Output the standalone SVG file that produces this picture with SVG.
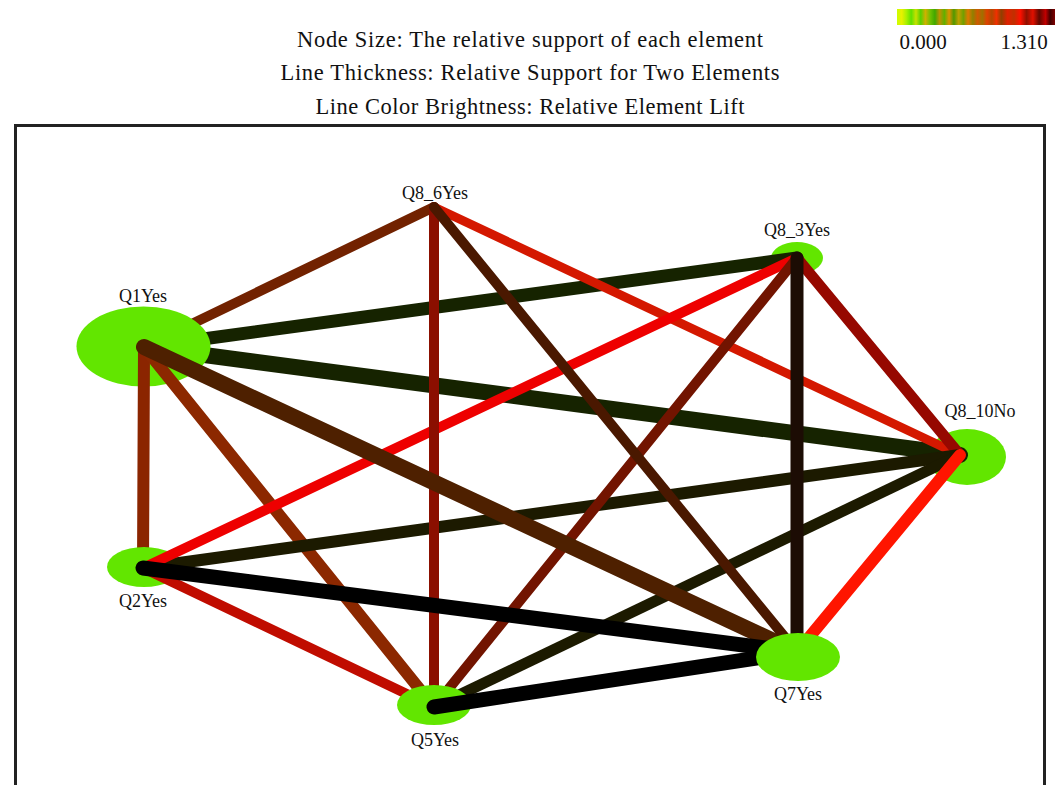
<svg xmlns="http://www.w3.org/2000/svg" width="1061" height="785" viewBox="0 0 1061 785">
  <defs>
    <linearGradient id="liftScale" x1="0" y1="0" x2="1" y2="0">
      <stop offset="0" stop-color="#ccff00"/>
      <stop offset="0.03" stop-color="#e8f000"/>
      <stop offset="0.06" stop-color="#a8f000"/>
      <stop offset="0.09" stop-color="#60e000"/>
      <stop offset="0.12" stop-color="#c8e000"/>
      <stop offset="0.15" stop-color="#58d000"/>
      <stop offset="0.18" stop-color="#d0b000"/>
      <stop offset="0.21" stop-color="#70c000"/>
      <stop offset="0.24" stop-color="#40a800"/>
      <stop offset="0.27" stop-color="#c09000"/>
      <stop offset="0.30" stop-color="#60b000"/>
      <stop offset="0.33" stop-color="#e09000"/>
      <stop offset="0.36" stop-color="#509800"/>
      <stop offset="0.39" stop-color="#c0a000"/>
      <stop offset="0.42" stop-color="#70a000"/>
      <stop offset="0.45" stop-color="#e07800"/>
      <stop offset="0.48" stop-color="#908000"/>
      <stop offset="0.51" stop-color="#d05800"/>
      <stop offset="0.54" stop-color="#a07000"/>
      <stop offset="0.57" stop-color="#e04000"/>
      <stop offset="0.60" stop-color="#b04800"/>
      <stop offset="0.63" stop-color="#f03000"/>
      <stop offset="0.66" stop-color="#904000"/>
      <stop offset="0.70" stop-color="#e02000"/>
      <stop offset="0.74" stop-color="#c03000"/>
      <stop offset="0.78" stop-color="#ff1000"/>
      <stop offset="0.82" stop-color="#901000"/>
      <stop offset="0.86" stop-color="#e01000"/>
      <stop offset="0.90" stop-color="#600800"/>
      <stop offset="0.94" stop-color="#c00000"/>
      <stop offset="0.97" stop-color="#400000"/>
      <stop offset="1" stop-color="#800000"/>
    </linearGradient>
  </defs>
  <style>
    .title { font-family: "Liberation Serif", "DejaVu Serif", serif; font-size: 22.5px; fill: #111; text-anchor: middle; }
    .scale { font-family: "Liberation Serif", "DejaVu Serif", serif; font-size: 21px; fill: #111; text-anchor: middle; }
    .label { font-family: "Liberation Serif", "DejaVu Serif", serif; font-size: 18px; fill: #111; text-anchor: middle; }
    .node { fill: #62e600; }
    .edges line { stroke-linecap: round; fill: none; }
  </style>

  <rect width="1061" height="785" fill="#ffffff"/>

  <!-- legend text -->
  <text class="title" x="530" y="47" textLength="466" lengthAdjust="spacing">Node Size: The relative support of each element</text>
  <text class="title" x="530" y="80" textLength="499" lengthAdjust="spacing">Line Thickness: Relative Support for Two Elements</text>
  <text class="title" x="530" y="114" textLength="429" lengthAdjust="spacing">Line Color Brightness: Relative Element Lift</text>

  <!-- lift colour scale -->
  <g id="colorScale">
    <rect x="897" y="9" width="158" height="16" fill="url(#liftScale)"/>
    <text class="scale" x="923" y="49">0.000</text>
    <text class="scale" x="1024" y="49">1.310</text>
  </g>

  <!-- plot frame -->
  <rect x="15.5" y="125.5" width="1029" height="700" fill="none" stroke="#222" stroke-width="3"/>

  <!-- nodes whose connectors all pass over them -->
  <g id="Q8_10No">
    <ellipse class="node" cx="967" cy="457" rx="39" ry="28"/>
    <text class="label" x="980" y="417">Q8_10No</text>
  </g>
  <g id="Q8_3Yes">
    <ellipse class="node" cx="797" cy="258" rx="26" ry="16"/>
    <text class="label" x="797" y="236">Q8_3Yes</text>
  </g>
  <g id="Q8_6Yes">
    <ellipse class="node" cx="434" cy="207" rx="4" ry="3"/>
    <text class="label" x="435" y="199">Q8_6Yes</text>
  </g>

  <!-- connectors, layer 1: width = joint support, colour = lift -->
  <g id="edges-1" class="edges">
    <line x1="144" y1="347" x2="797" y2="258" stroke="#162300" stroke-width="13"/>
    <line x1="144" y1="347" x2="960" y2="455" stroke="#162300" stroke-width="16"/>
    <line x1="144" y1="347" x2="434" y2="207" stroke="#722200" stroke-width="10"/>
    <line x1="434" y1="207" x2="960" y2="455" stroke="#d41800" stroke-width="9"/>
    <line x1="797" y1="258" x2="960" y2="455" stroke="#960800" stroke-width="11"/>
  </g>

  <g id="Q1Yes">
    <ellipse class="node" cx="143.5" cy="346.5" rx="67" ry="40"/>
    <text class="label" x="143" y="302">Q1Yes</text>
  </g>

  <g id="edges-2" class="edges">
    <line x1="144" y1="347" x2="143" y2="568" stroke="#8b2500" stroke-width="12"/>
  </g>

  <g id="Q2Yes">
    <ellipse class="node" cx="144" cy="567" rx="37" ry="20"/>
    <text class="label" x="143" y="607">Q2Yes</text>
  </g>

  <g id="edges-3" class="edges">
    <line x1="144" y1="347" x2="434" y2="707" stroke="#8c2800" stroke-width="12"/>
    <line x1="143" y1="568" x2="960" y2="455" stroke="#1c1a00" stroke-width="12"/>
    <line x1="434" y1="707" x2="960" y2="455" stroke="#1c1a00" stroke-width="11"/>
    <line x1="143" y1="568" x2="434" y2="707" stroke="#c00c00" stroke-width="10"/>
    <line x1="143" y1="568" x2="797" y2="258" stroke="#ee0000" stroke-width="10"/>
    <line x1="434" y1="207" x2="434" y2="707" stroke="#8b0f00" stroke-width="10"/>
    <line x1="797" y1="258" x2="434" y2="707" stroke="#721400" stroke-width="10"/>
    <line x1="144" y1="347" x2="797" y2="652" stroke="#4e2000" stroke-width="16"/>
    <line x1="434" y1="207" x2="797" y2="652" stroke="#4a1800" stroke-width="10"/>
    <line x1="797" y1="258" x2="797" y2="652" stroke="#1c0c04" stroke-width="13"/>
    <line x1="960" y1="455" x2="797" y2="652" stroke="#ff1500" stroke-width="12"/>
    <line x1="143" y1="568" x2="797" y2="652" stroke="#000000" stroke-width="15"/>
  </g>

  <g id="Q5Yes">
    <ellipse class="node" cx="434" cy="705" rx="37" ry="20"/>
    <text class="label" x="435" y="746">Q5Yes</text>
  </g>

  <g id="edges-4" class="edges">
    <line x1="434" y1="707" x2="797" y2="652" stroke="#000000" stroke-width="15"/>
  </g>

  <g id="Q7Yes">
    <ellipse class="node" cx="798" cy="657" rx="42" ry="24"/>
    <text class="label" x="798" y="700">Q7Yes</text>
  </g>
</svg>
